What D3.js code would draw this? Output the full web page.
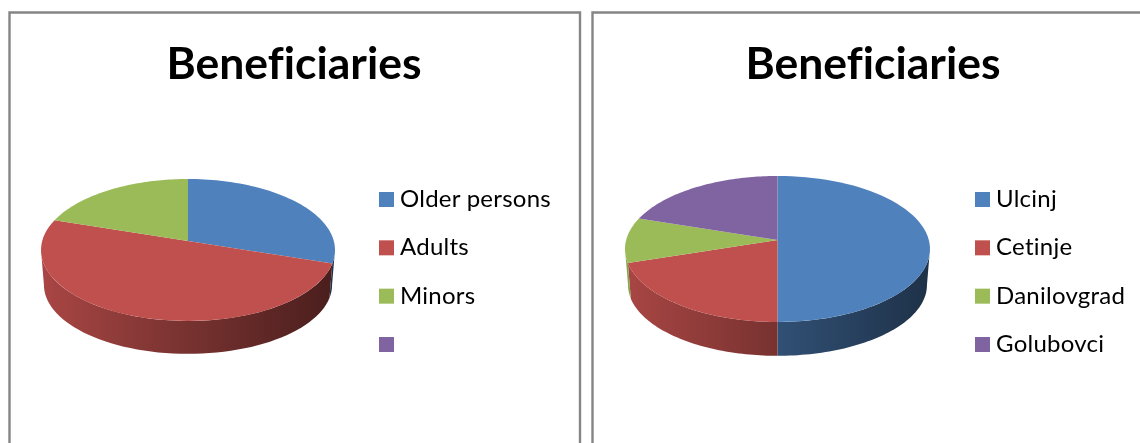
<!DOCTYPE html>
<html>
<head>
<meta charset="utf-8">
<script src="https://cdn.jsdelivr.net/npm/d3@7"></script>
<style>
  html, body { margin: 0; padding: 0; background: #fff; overflow: hidden; }
  svg { display: block; filter: blur(0.4px); }
  text { font-family: Lato, "Open Sans", sans-serif; fill: #000; font-variant-ligatures: none; }
</style>
</head>
<body>
<div id="chart"></div>
<script>
const title = "Beneficiaries";
const colors = ["#4f81bd", "#c0504d", "#9bbb59", "#8064a2"];

// left chart
const ageLabels = ["Older persons", "Adults", "Minors", ""];
const ageValues = [30, 50, 20, 0];

// right chart
const townLabels = ["Ulcinj", "Cetinje", "Danilovgrad", "Golubovci"];
const townValues = [50, 20, 10, 20];

const svg = d3.select("#chart").append("svg").attr("width", 1140).attr("height", 443);
const defs = svg.append("defs");

function createPie(id, labels, values, o) {
  const panel = svg.append("g");

  panel
    .append("path")
    .attr("d", `M${o.left},443V12.5H${o.right}V443`)
    .attr("fill", "none")
    .attr("stroke", "#858585")
    .attr("stroke-width", 2.4);

  panel
    .append("text")
    .attr("x", o.titleX)
    .attr("y", 79)
    .attr("text-anchor", "middle")
    .attr("font-size", 44.5)
    .attr("font-weight", 700)
    .text(title);

  const slices = d3.pie().sort(null)(values);

  // perspective: the pie centre sits above the centre of the ellipse
  const k = (o.apexY - o.cy) / o.ry;
  const rim = (a, rx, ry, cy) => {
    const u = Math.sin(a);
    const v = -Math.cos(a);
    const d = 1 + k * v;
    return [
      o.cx + (rx * u * Math.sqrt(1 - k * k)) / d,
      cy + (ry * (v + k)) / d,
    ];
  };
  const arcPoints = (a0, a1, rx, ry, cy) =>
    d3.range(0, 61).map((i) => rim(a0 + ((a1 - a0) * i) / 60, rx, ry, cy));
  const line = d3.line();

  // side wall, only the part of each slice facing the viewer
  const frontStart = Math.acos(k);
  const frontEnd = 2 * Math.PI - frontStart;
  slices.forEach((s, i) => {
    const a0 = Math.max(s.startAngle, frontStart);
    const a1 = Math.min(s.endAngle, frontEnd);
    if (a1 <= a0) return;

    const base = d3.rgb(colors[i]);
    const shade = (f) => d3.rgb(base.r * f, base.g * f, base.b * f).formatHex();
    const gradId = `${id}-wall-${i}`;
    const grad = defs
      .append("linearGradient")
      .attr("id", gradId)
      .attr("gradientUnits", "userSpaceOnUse")
      .attr("x1", o.cx - o.rx)
      .attr("x2", o.cx + o.rx)
      .attr("y1", 0)
      .attr("y2", 0);
    grad.append("stop").attr("offset", 0).attr("stop-color", shade(0.88));
    grad.append("stop").attr("offset", 0.5).attr("stop-color", shade(0.62));
    grad.append("stop").attr("offset", 1).attr("stop-color", shade(0.38));

    const top = arcPoints(a0, a1, o.rx, o.ry, o.cy);
    const bottom = arcPoints(a1, a0, o.rx * 0.98, o.ry * 0.97, o.cy + o.depth);
    panel
      .append("path")
      .attr("d", line(top.concat(bottom)) + "Z")
      .attr("fill", `url(#${gradId})`);
  });

  // top face
  slices.forEach((s, i) => {
    if (s.value === 0) return;
    const pts = [[o.cx, o.apexY]].concat(arcPoints(s.startAngle, s.endAngle, o.rx, o.ry, o.cy));
    panel
      .append("path")
      .attr("d", line(pts) + "Z")
      .attr("fill", colors[i]);
  });

  // legend
  const y = d3.scalePoint(d3.range(labels.length), [199.5, 344.5]);
  const rows = panel
    .selectAll("legendrow")
    .data(labels)
    .enter()
    .append("g")
    .attr("transform", (d, i) => `translate(${o.legendX},${y(i)})`);
  rows
    .append("rect")
    .attr("x", 0)
    .attr("y", -7.5)
    .attr("width", 15)
    .attr("height", 15)
    .attr("fill", (d, i) => colors[i]);
  rows
    .append("text")
    .attr("x", 21)
    .attr("y", 7.5)
    .attr("font-size", 24)
    .attr("letter-spacing", 0.25)
    .text((d) => d);
}

function init() {
  createPie("age", ageLabels, ageValues, {
    left: 9.5, right: 580, titleX: 294, cx: 188, cy: 250, apexY: 241,
    rx: 147, ry: 71, depth: 35, legendX: 379,
  });
  createPie("town", townLabels, townValues, {
    left: 592.5, right: 1160, titleX: 873, cx: 777.5, cy: 249, apexY: 240,
    rx: 152.5, ry: 73, depth: 36, legendX: 975,
  });
}

window.addEventListener("load", init);
</script>
</body>
</html>
